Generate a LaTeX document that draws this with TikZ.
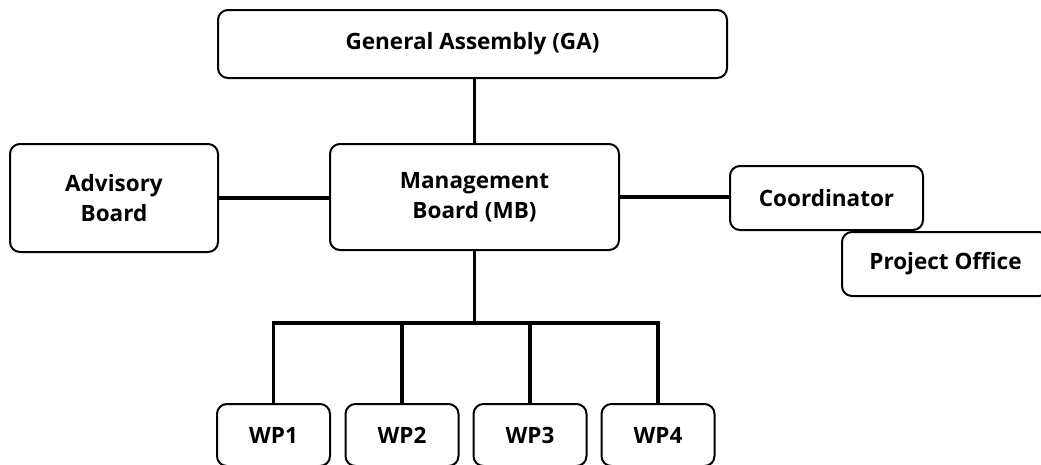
\documentclass[tikz,border=0pt]{standalone}
\usepackage{fontspec}
\setmainfont{Open Sans}
\pgfdeclarelayer{bg}
\pgfsetlayers{bg,main}

\begin{document}
\begin{tikzpicture}[x=1pt,y=-1pt,
    box/.style={shape=rectangle,draw=black,fill=white,line width=2pt,
      rounded corners=10pt,align=center,inner sep=0pt,
      font=\bfseries\fontsize{22.5}{30}\selectfont},
    link/.style={line width=3.5pt,line cap=rect}]

  \useasboundingbox (0,0) rectangle (1041,464);
  \clip (0,0) rectangle (1041,464);

  % draw boards with nodes
  \node[box,minimum width=509pt,minimum height=68pt] (ga) at (472.5,44) {General Assembly (GA)};
  \node[box,minimum width=289pt,minimum height=106pt] (mb) at (474.5,197) {Management\\Board (MB)};
  \node[box,minimum width=208pt,minimum height=108pt] (ab) at (114,198) {Advisory\\Board};
  \node[box,minimum width=193pt,minimum height=64pt] (co) at (826.5,198) {Coordinator};
  \node[box,minimum width=207pt,minimum height=64pt] (po) at (945.5,264) {Project Office};

  % draw work packages with nodes
  \foreach [count=\n] \x in {273.5,402,530,658} {
    \node[box,minimum width=113pt,minimum height=62pt] (wp\n) at (\x,435) {WP\n};
  };

  \begin{pgfonlayer}{bg}
  \draw[link] (mb.north) -- (mb.north |- ga.south);
  \draw[link] (ab.east) -- (ab.east -| mb.west);
  \draw[link] (mb.east) -- (mb.east -| co.west);
  \coordinate (bus) at (474.5,323);
  \draw[link] (mb.south) -- (bus);
  \draw[link] (wp1.north |- bus) -- (wp4.north |- bus);
  \foreach \n in {1,...,4} {
    \draw[link] (wp\n.north) -- (wp\n.north |- bus);
  };
  \end{pgfonlayer}

\end{tikzpicture}
\end{document}
